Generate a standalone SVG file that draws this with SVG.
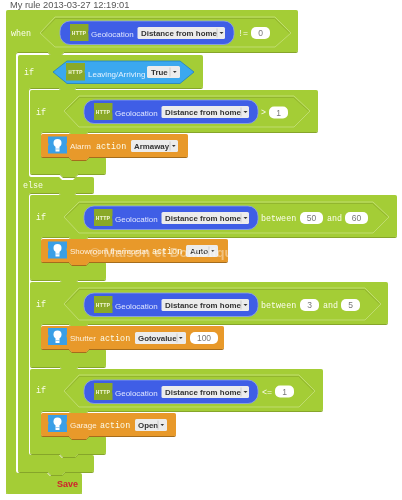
<svg xmlns="http://www.w3.org/2000/svg" width="402" height="500" viewBox="0 0 402 500">
<style>
text{font-family:"Liberation Sans",Arial,sans-serif;font-size:8px}
.title{fill:#555;font-size:9.300px}
.kw{font-family:"Liberation Mono","Courier New",monospace;font-size:8.400px;fill:#fbfdec}
.lab{fill:#dfe5ff}
.lo{fill:#fdf0dc}
.dd{font-weight:bold;fill:#333;font-size:7.900px}
.val{fill:#777;text-anchor:middle;font-size:8.500px}
.http{font-family:"Liberation Mono",monospace;font-weight:bold;font-size:6px;fill:#eef5cf;text-anchor:middle}
.green{fill:#a4cd36;filter:url(#bevel)}
.hex{fill:#a4cd36;stroke:#c6e07e;stroke-width:.8}
.hexd{fill:none;stroke:#86a62a;stroke-width:.6}
.orange{fill:#e8992a;filter:url(#bevelo)}
.box{fill:#ececec}
.inp{fill:#fff}
.save{fill:#d0202c;font-weight:bold;font-size:9px}
.wm{fill:#fff;opacity:.4;font-weight:bold;font-size:13.500px}
</style>
<defs>
<filter id="soft" x="0" y="0" width="100%" height="100%" color-interpolation-filters="sRGB"><feGaussianBlur stdDeviation=".3"/></filter>
<filter id="bevel" x="-5%" y="-5%" width="110%" height="110%" color-interpolation-filters="sRGB">
<feOffset in="SourceAlpha" dx=".2" dy=".7" result="a"/><feFlood flood-color="#86a52a"/><feComposite in2="a" operator="in" result="dk"/>
<feOffset in="SourceAlpha" dx="-.3" dy="-.3" result="b"/><feFlood flood-color="#e2efb8"/><feComposite in2="b" operator="in" result="lt"/>
<feMerge><feMergeNode in="dk"/><feMergeNode in="lt"/><feMergeNode in="SourceGraphic"/></feMerge>
</filter>
<filter id="bevelo" x="-5%" y="-10%" width="110%" height="120%" color-interpolation-filters="sRGB">
<feOffset in="SourceAlpha" dx=".3" dy=".7" result="a"/><feFlood flood-color="#a56c1c"/><feComposite in2="a" operator="in" result="dk"/>
<feOffset in="SourceAlpha" dx="-.4" dy="-.4" result="b"/><feFlood flood-color="#f5cf95"/><feComposite in2="b" operator="in" result="lt"/>
<feMerge><feMergeNode in="dk"/><feMergeNode in="lt"/><feMergeNode in="SourceGraphic"/></feMerge>
</filter>
<g id="geo">
<rect x="0" y="0" width="174" height="23.500" rx="10" fill="#3f5ee6" stroke="#8ea2ee" stroke-width=".8"/>
<path d="M10 3h18.500v6.500l-.5 2 .5 2v6.500h-18.500v-6.500l.5-2-.5-2z" fill="#8aa928"/>
<rect x="77.500" y="6" width="87.500" height="12" rx="1.500" class="box"/>
<path d="M157 7.500v9" stroke="#bbb" stroke-width=".6"/><path d="M159.500 11h4l-2 2z" fill="#333"/>
</g>
<path id="tile2" d="M0 1h19v6.500l-.5 2 .5 2v7h-19v-7l.5-2-.5-2z" fill="#8aa928"/>
<g id="bulb">
<path d="M0 0h19v6l-.6 2 .6 2v7h-19v-7l.6-2-.6-2z" fill="#3a9fe6"/>
<circle cx="9.500" cy="6.500" r="4" fill="#fff"/><rect x="7.500" y="9" width="4" height="6" fill="#fff"/>
<path d="M7.500 12.500h4" stroke="#3a9fe6" stroke-width=".5"/>
</g>
<g id="arrow"><path d="M0 0h3.600l-1.800 2z" fill="#333"/></g>
<clipPath id="wmclip"><rect x="41" y="239" width="187" height="23"/></clipPath>
</defs>
<rect width="402" height="500" fill="#fff"/>
<g filter="url(#soft)">
<text class="title" x="10" y="8">My rule 2013-03-27 12:19:01</text>
<g id="connectors"></g>

<g id="rule">
<path class="green" d="M8 10H296Q298 10 298 12V50Q298 52 296 52H64l-3 3h-10l-3-3H18Q16 52 16 54V471Q16 473 18 473H47l3 3h11l3-3H80Q82 473 82 475V492Q82 494 80 494H8Q6 494 6 492V12Q6 10 8 10z"/>
<path class="hex" d="M40 33L55 17H275L291 33L275 47H55z"/>
<path class="hexd" d="M41.500 33L55.500 18.500H274.500L289.500 33"/>
<text class="kw" x="11" y="36">when</text>
<use href="#geo" x="60" y="21"/>
<text class="http" x="79" y="35">HTTP</text>
<text class="lab" x="91" y="37">Geolocation</text>
<text class="dd" x="141" y="35.500">Distance from home</text>
<text class="kw" x="238" y="36">!=</text>
<rect class="inp" x="251" y="27" width="19" height="12" rx="5"/>
<text class="val" x="260.500" y="36">0</text>
<text class="save" x="57" y="487">Save</text>
</g>

<g id="if-leaving">
<path class="green" d="M20 55H201Q203 55 203 57V86Q203 88 201 88H76l-3 3h-11l-3-3H31Q29 88 29 90V175Q29 177 31 177H59l3 3h11l3-3H92Q94 177 94 179V191Q94 193 92 193H76l-3 3h-11l-3-3H31Q29 193 29 195V453Q29 455 31 455H59l3 3h11l3-3H92Q94 455 94 457V470Q94 472 92 472H65l-3 3h-11l-3-3H20Q18 472 18 470V57Q18 55 20 55z"/>
<path d="M53 72L67 61H180L194 72L180 83.500H67z" fill="#3ba8ef" stroke="#1f7fc4" stroke-width=".8"/>
<text class="kw" x="24" y="75">if</text>
<use href="#tile2" x="66" y="62"/>
<text class="http" x="75.500" y="74">HTTP</text>
<text class="lab" x="88" y="77" style="fill:#e4f2ff">Leaving/Arriving</text>
<rect class="box" x="147" y="66" width="33" height="12" rx="1.500"/>
<text class="dd" x="151" y="75">True</text>
<path d="M170 67.500v9" stroke="#bbb" stroke-width=".6"/><use href="#arrow" x="173" y="71"/>
<text class="kw" x="23" y="188">else</text>
</g>

<g id="if-gt1">
<path class="green" d="M32 90H316Q318 90 318 92V130Q318 132 316 132H88l-3 3h-13l-3-3H43Q41 132 41 134V155Q41 157 43 157H71l3 3h12l3-3H104Q106 157 106 159V172Q106 174 104 174H78l-3 3h-12l-3-3H32Q30 174 30 172V92Q30 90 32 90z"/>
<path class="hex" d="M64 111L79 96H294L310 111L294 127H79z"/>
<path class="hexd" d="M65.500 111L79.500 97.500H293.500L308.500 111"/>
<text class="kw" x="36" y="115">if</text>
<use href="#geo" x="84" y="100"/>
<text class="http" x="103" y="114">HTTP</text>
<text class="lab" x="115" y="116">Geolocation</text>
<text class="dd" x="165" y="115">Distance from home</text>
<text class="kw" x="261" y="115">&gt;</text>
<rect class="inp" x="269" y="106.500" width="19" height="12" rx="5"/>
<text class="val" x="278.500" y="115.500">1</text>
</g>
<g id="act-alarm">
<path class="orange" d="M43 134H186Q188 134 188 136V155Q188 157 186 157H89l-3 3h-14l-3-3H43Q41 157 41 155V136Q41 134 43 134z"/>
<use href="#bulb" x="48" y="136.500"/>
<text class="lab lo" x="70" y="149">Alarm</text>
<text class="kw" x="96" y="149">action</text>
<rect class="box" x="131" y="140" width="47" height="12" rx="1.500"/>
<text class="dd" x="134" y="149">Armaway</text>
<path d="M170 141.500v9" stroke="#bbb" stroke-width=".6"/><use href="#arrow" x="172" y="145"/>
</g>

<g id="if-between-50-60">
<path class="green" d="M32 195H395Q397 195 397 197V235Q397 237 395 237H88l-3 3h-13l-3-3H43Q41 237 41 239V260Q41 262 43 262H71l3 3h12l3-3H104Q106 262 106 264V278Q106 280 104 280H78l-3 3h-12l-3-3H32Q30 280 30 278V197Q30 195 32 195z"/>
<path class="hex" d="M64 217L79 202H373L389 217L373 233H79z"/>
<path class="hexd" d="M65.500 217L79.500 203.500H372.500L387.500 217"/>
<text class="kw" x="36" y="220">if</text>
<use href="#geo" x="84" y="206"/>
<text class="http" x="103" y="220">HTTP</text>
<text class="lab" x="115" y="222">Geolocation</text>
<text class="dd" x="165" y="220.500">Distance from home</text>
<text class="kw" x="261" y="220.500">between</text>
<rect class="inp" x="300" y="212" width="23" height="12" rx="5"/>
<text class="val" x="311.500" y="221">50</text>
<text class="kw" x="327" y="220.500">and</text>
<rect class="inp" x="345" y="212" width="23" height="12" rx="5"/>
<text class="val" x="356.500" y="221">60</text>
</g>
<g id="act-showroom">
<path class="orange" d="M43 239H226Q228 239 228 241V260Q228 262 226 262H89l-3 3h-14l-3-3H43Q41 262 41 260V241Q41 239 43 239z"/>
<use href="#bulb" x="48" y="241.500"/>
<text class="lab lo" x="70" y="254">Showroom thermostat</text>
<text class="kw" x="152" y="254">action</text>
<rect class="box" x="186" y="245" width="32" height="12" rx="1.500"/>
<text class="dd" x="190" y="254">Auto</text>
<path d="M209 246.500v9" stroke="#bbb" stroke-width=".6"/><use href="#arrow" x="211" y="250"/>
</g>

<g id="if-between-3-5">
<path class="green" d="M32 282H386Q388 282 388 284V322Q388 324 386 324H88l-3 3h-13l-3-3H43Q41 324 41 326V347Q41 349 43 349H71l3 3h12l3-3H104Q106 349 106 351V365Q106 367 104 367H78l-3 3h-12l-3-3H32Q30 367 30 365V284Q30 282 32 282z"/>
<path class="hex" d="M64 304L79 288H365L381 304L365 320H79z"/>
<path class="hexd" d="M65.500 304L79.500 289.500H364.500L379.500 304"/>
<text class="kw" x="36" y="307">if</text>
<use href="#geo" x="84" y="293"/>
<text class="http" x="103" y="307">HTTP</text>
<text class="lab" x="115" y="309">Geolocation</text>
<text class="dd" x="165" y="307.500">Distance from home</text>
<text class="kw" x="261" y="307.500">between</text>
<rect class="inp" x="300" y="299" width="19" height="12" rx="5"/>
<text class="val" x="309.500" y="308">3</text>
<text class="kw" x="323" y="307.500">and</text>
<rect class="inp" x="341" y="299" width="19" height="12" rx="5"/>
<text class="val" x="350.500" y="308">5</text>
</g>
<g id="act-shutter">
<path class="orange" d="M43 326H222Q224 326 224 328V347Q224 349 222 349H89l-3 3h-14l-3-3H43Q41 349 41 347V328Q41 326 43 326z"/>
<use href="#bulb" x="48" y="328"/>
<text class="lab lo" x="70" y="341">Shutter</text>
<text class="kw" x="100" y="341">action</text>
<rect class="box" x="135" y="332" width="51" height="12" rx="1.500"/>
<text class="dd" x="138" y="341">Gotovalue</text>
<path d="M177 333.500v9" stroke="#bbb" stroke-width=".6"/><use href="#arrow" x="179" y="337"/>
<rect class="inp" x="190" y="332" width="28" height="12" rx="5"/>
<text class="val" x="204" y="341">100</text>
</g>

<g id="if-lte1">
<path class="green" d="M32 369H321Q323 369 323 371V409Q323 411 321 411H88l-3 3h-13l-3-3H43Q41 411 41 413V434Q41 436 43 436H71l3 3h12l3-3H104Q106 436 106 438V452Q106 454 104 454H78l-3 3h-12l-3-3H32Q30 454 30 452V371Q30 369 32 369z"/>
<path class="hex" d="M64 391L79 375H299L315 391L299 407H79z"/>
<path class="hexd" d="M65.500 391L79.500 376.500H298.500L313.500 391"/>
<text class="kw" x="36" y="393">if</text>
<use href="#geo" x="84" y="380"/>
<text class="http" x="103" y="394">HTTP</text>
<text class="lab" x="115" y="396">Geolocation</text>
<text class="dd" x="165" y="394.500">Distance from home</text>
<text class="kw" x="262" y="394.500">&lt;=</text>
<rect class="inp" x="275" y="385.500" width="19" height="12" rx="5"/>
<text class="val" x="284.500" y="394.500">1</text>
</g>
<g id="act-garage">
<path class="orange" d="M43 413H174Q176 413 176 415V434Q176 436 174 436H89l-3 3h-14l-3-3H43Q41 436 41 434V415Q41 413 43 413z"/>
<use href="#bulb" x="48" y="415"/>
<text class="lab lo" x="70" y="428">Garage</text>
<text class="kw" x="100" y="428">action</text>
<rect class="box" x="135" y="419" width="32" height="12" rx="1.500"/>
<text class="dd" x="138" y="428">Open</text>
<path d="M158 420.500v9" stroke="#bbb" stroke-width=".6"/><use href="#arrow" x="160.500" y="424"/>
</g>
<text class="wm" x="90" y="257" clip-path="url(#wmclip)">© Maison et Domotique</text>
</g>
</svg>
